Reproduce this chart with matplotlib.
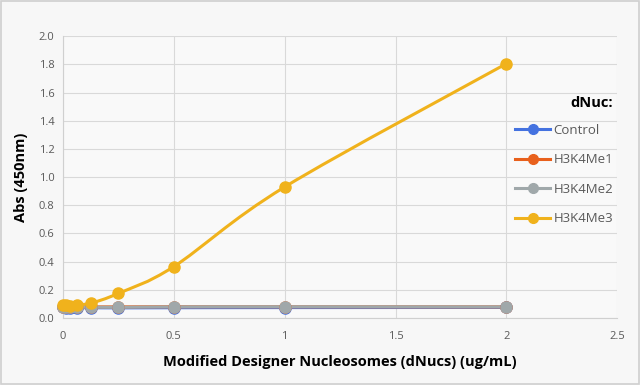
import numpy as np
import matplotlib.pyplot as plt
from matplotlib.path import Path
from matplotlib.patches import PathPatch, Rectangle
from matplotlib.lines import Line2D

plt.rcParams['font.family'] = ['Open Sans', 'DejaVu Sans']

# dNuc concentration (ug/mL), serial dilution
conc = [0, 0.015625, 0.03125, 0.0625, 0.125, 0.25, 0.5, 1, 2]
control = [0.075, 0.072, 0.073, 0.073, 0.073, 0.072, 0.073, 0.074, 0.075]
h3k4me1 = [0.080, 0.078, 0.078, 0.079, 0.079, 0.079, 0.080, 0.080, 0.079]
h3k4me2 = [0.080, 0.076, 0.076, 0.076, 0.077, 0.076, 0.079, 0.080, 0.079]
h3k4me3 = [0.095, 0.090, 0.085, 0.095, 0.105, 0.175, 0.365, 0.930, 1.805]

names = ['Control', 'H3K4Me1', 'H3K4Me2', 'H3K4Me3']
colors = ['#4472e0', '#e8601c', '#a0a8aa', '#f0b21c']
series = [control, h3k4me1, h3k4me2, h3k4me3]

fig = plt.figure(figsize=(6.4, 3.85), dpi=100, facecolor='#f7f7f7')
fig.patches.append(Rectangle((0.002, 0.003), 0.996, 0.994, transform=fig.transFigure,
                             fill=False, edgecolor='#cfcfcf', linewidth=1.2))
ax = fig.add_axes([0.0984, 0.174, 0.866, 0.732])
ax.set_facecolor('#f9f9f9')


def smooth_path(x, y, t=1/6):
    # Excel style smoothed line: cubic Bezier pieces through the points
    x = np.asarray(x, float)
    y = np.asarray(y, float)
    verts = [(x[0], y[0])]
    codes = [Path.MOVETO]
    n = len(x)
    for i in range(n - 1):
        p0 = i - 1 if i > 0 else i
        p3 = i + 2 if i + 2 < n else i + 1
        c1 = (x[i] + t * (x[i + 1] - x[p0]), y[i] + t * (y[i + 1] - y[p0]))
        c2 = (x[i + 1] - t * (x[p3] - x[i]), y[i + 1] - t * (y[p3] - y[i]))
        verts += [c1, c2, (x[i + 1], y[i + 1])]
        codes += [Path.CURVE4] * 3
    return Path(verts, codes)


for vals, col in zip(series, colors):
    ax.add_patch(PathPatch(smooth_path(conc, vals), facecolor='none',
                           edgecolor=col, linewidth=2.2, zorder=3))
    ax.plot(conc, vals, 'o', color=col, markersize=8, zorder=4,
            clip_on=False)

ax.set_xlim(0, 2.5)
ax.set_ylim(0, 2.0)
ax.set_xticks([0, 0.5, 1, 1.5, 2, 2.5])
ax.set_xticklabels(['0', '0.5', '1', '1.5', '2', '2.5'])
ax.set_yticks(np.arange(0, 2.01, 0.2))
ax.set_yticklabels(['%.1f' % v for v in np.arange(0, 2.01, 0.2)])
ax.tick_params(length=0, labelsize=8, colors='#595959', pad=6)
ax.tick_params(axis='x', pad=9)
ax.grid(True, color='#d9d9d9', linewidth=0.8)
ax.set_axisbelow(True)
for s in ['top', 'right']:
    ax.spines[s].set_visible(False)
for s in ['left', 'bottom']:
    ax.spines[s].set_color('#d0d0d0')

ax.set_xlabel('Modified Designer Nucleosomes (dNucs) (ug/mL)',
              fontsize=10.5, fontweight='bold', labelpad=10)
ax.set_ylabel('Abs (450nm)', fontsize=10.5, fontweight='bold', labelpad=8)

handles = [Line2D([], [], color=c, linewidth=2.2, marker='o', markersize=7)
           for c in colors]
leg = ax.legend(handles, names, title='dNuc:', loc='upper left',
                bbox_to_anchor=(0.795, 0.83), frameon=False, fontsize=9.5,
                handlelength=2.6, labelspacing=1.25, handletextpad=0.3,
                labelcolor='#595959')
leg.get_title().set_fontweight('bold')
leg.get_title().set_fontsize(10.5)
leg._legend_box.align = 'right'
leg._legend_box.sep = 10

fig.savefig('out.png', dpi=100, facecolor=fig.get_facecolor())
